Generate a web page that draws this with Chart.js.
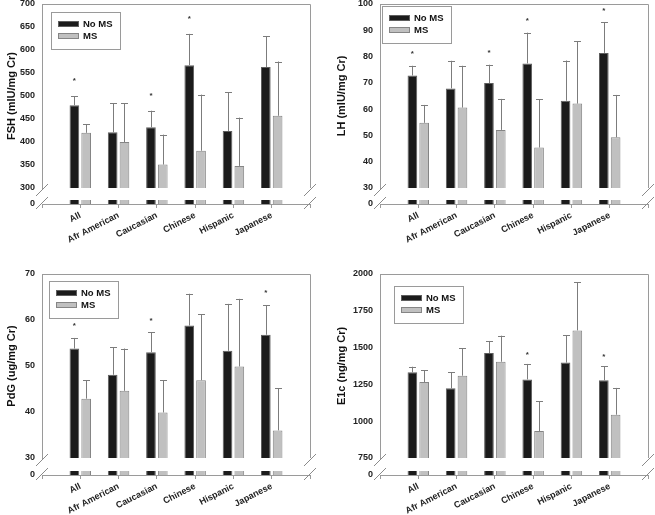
<!DOCTYPE html>
<html>
<head>
<meta charset="utf-8">
<script src="https://cdn.jsdelivr.net/npm/chart.js@4.4.0/dist/chart.umd.min.js"></script>
<style>
  body { margin: 0; background: #fff; }
  #wrap { position: relative; width: 655px; height: 515px; overflow: hidden; }
  canvas { position: absolute; }
</style>
</head>
<body>
<div id="wrap">
  <canvas id="fsh" width="327" height="255" style="left:0;top:0"></canvas>
  <canvas id="lh" width="325" height="255" style="left:330px;top:0"></canvas>
  <canvas id="pdg" width="327" height="260" style="left:0;top:255px"></canvas>
  <canvas id="e1c" width="325" height="260" style="left:330px;top:255px"></canvas>
</div>
<script>
const categories = ['All', 'Afr American', 'Caucasian', 'Chinese', 'Hispanic', 'Japanese'];
const seriesNames = ['No MS', 'MS'];

// FSH (mIU/mg Cr)
const fshNoMS = [480, 421, 432, 567, 424, 563];
const fshNoMSErr = [20, 63, 36, 68, 84, 67];
const fshMS = [420, 400, 351, 381, 348, 457];
const fshMSErr = [19, 84, 65, 122, 105, 118];
const fshStars = [1, 0, 1, 1, 0, 0];

// LH (mIU/mg Cr)
const lhNoMS = [72.8, 67.9, 69.9, 77.4, 63.2, 81.4];
const lhNoMSErr = [3.7, 10.5, 7.0, 11.7, 15.3, 11.6];
const lhMS = [54.8, 60.6, 52.1, 45.4, 62.1, 49.3];
const lhMSErr = [6.8, 15.9, 11.8, 18.3, 23.7, 16.1];
const lhStars = [1, 0, 1, 1, 0, 1];

// PdG (ug/mg Cr)
const pdgNoMS = [53.8, 48.1, 53.0, 58.8, 53.3, 56.8];
const pdgNoMSErr = [2.3, 6.0, 4.3, 6.9, 10.2, 6.4];
const pdgMS = [42.9, 44.6, 39.9, 46.9, 49.9, 36.0];
const pdgMSErr = [4.0, 9.2, 7.0, 14.3, 14.7, 9.2];
const pdgStars = [1, 0, 1, 0, 0, 1];

// E1c (ng/mg Cr)
const e1cNoMS = [1332, 1223, 1463, 1284, 1398, 1278];
const e1cNoMSErr = [38, 111, 82, 105, 185, 95];
const e1cMS = [1266, 1309, 1404, 933, 1617, 1044];
const e1cMSErr = [80, 186, 177, 204, 326, 182];
const e1cStars = [0, 0, 0, 1, 0, 1];

const FONT = 'Arial, "Liberation Sans", sans-serif';
const noMSFill = '#1b1b1b', noMSEdge = '#5e5e5e';
const msFill = '#c0c0c0', msEdge = '#858585';
const lineGray = '#9a9a9a';

// pad the category axis with an empty slot on both ends
const pad = arr => [null, ...arr, null];

// clip, error bars, asterisks, frame, axis breaks and legend
const decor = {
  id: 'decor',
  beforeDatasetDraw(chart, args) {
    const ds = chart.data.datasets[args.index];
    const sc = chart.scales[ds.yAxisID];
    const a = chart.chartArea;
    const ctx = chart.ctx;
    ctx.save();
    ctx.beginPath();
    if (ds.stub) ctx.rect(a.left, sc.bottom - 4, a.right - a.left, 4);
    else ctx.rect(a.left, sc.top, a.right - a.left, sc.bottom - sc.top);
    ctx.clip();
  },
  afterDatasetDraw(chart) {
    chart.ctx.restore();
  },
  afterDatasetsDraw(chart, args, opts) {
    const ctx = chart.ctx;
    const y = chart.scales.y;
    chart.data.datasets.forEach((ds, di) => {
      if (ds.stub) return;
      const meta = chart.getDatasetMeta(di);
      meta.data.forEach((el, i) => {
        const v = ds.data[i];
        if (v == null) return;
        const top = y.getPixelForValue(v + ds.errors[i]);
        ctx.save();
        ctx.strokeStyle = '#7c7c7c';
        ctx.lineWidth = 1;
        ctx.beginPath();
        const x = Math.round(el.x) + 0.5;
        ctx.moveTo(x, el.y);
        ctx.lineTo(x, top);
        ctx.moveTo(x - 3.5, Math.round(top) + 0.5);
        ctx.lineTo(x + 3.5, Math.round(top) + 0.5);
        ctx.stroke();
        if (ds.stars && ds.stars[i]) {
          ctx.fillStyle = '#333';
          ctx.font = 'bold 8px ' + FONT;
          ctx.textAlign = 'center';
          ctx.textBaseline = 'middle';
          ctx.fillText('*', el.x, top - opts.starGap);
        }
        ctx.restore();
      });
    });
  },
  afterDraw(chart, args, opts) {
    const ctx = chart.ctx;
    const a = chart.chartArea;
    const brk = chart.scales.y.bottom;
    const bot = chart.scales.y0.bottom;
    ctx.save();
    ctx.strokeStyle = lineGray;
    ctx.lineWidth = 1;
    ctx.beginPath();
    ctx.moveTo(a.left, a.top + 0.5);
    ctx.lineTo(a.right + 0.5, a.top + 0.5);
    ctx.lineTo(a.right + 0.5, brk);
    ctx.stroke();
    // axis break marks
    ctx.strokeStyle = '#8a8a8a';
    ctx.beginPath();
    [a.left, a.right].forEach(x => {
      ctx.moveTo(x - 6, brk + 8);
      ctx.lineTo(x + 6, brk - 4);
      ctx.moveTo(x - 6, bot + 5);
      ctx.lineTo(x + 6, bot - 7);
    });
    ctx.stroke();
    // legend
    const lx = a.left + opts.legendX, ly = a.top + opts.legendY;
    ctx.fillStyle = '#fff';
    ctx.fillRect(lx, ly, 69, 37);
    ctx.strokeStyle = lineGray;
    ctx.strokeRect(lx + 0.5, ly + 0.5, 69, 37);
    chart.data.datasets.filter(d => !d.stub).forEach((d, k) => {
      const cy = ly + 12 + k * 12;
      ctx.fillStyle = d.backgroundColor;
      ctx.fillRect(lx + 7, cy - 3, 21, 6);
      ctx.strokeStyle = d.borderColor;
      ctx.strokeRect(lx + 7.5, cy - 2.5, 20, 5);
      ctx.fillStyle = '#111';
      ctx.font = 'bold 9.5px ' + FONT;
      ctx.textAlign = 'left';
      ctx.textBaseline = 'middle';
      ctx.fillText(d.label, lx + 32, cy + 0.5);
    });
    ctx.restore();
  }
};

function zeroPad(s) {
  s.paddingTop = 0; s.paddingBottom = 0; s.paddingLeft = 0; s.paddingRight = 0;
}

function makePanel(id, p) {
  const canvas = document.getElementById(id);
  const W = canvas.width, H = canvas.height;
  const L = p.layout;
  const tickFont = { family: FONT, size: 9, weight: 'bold' };
  const plain = v => String(v);
  const bar = (label, data, fill, edge, extra) => Object.assign({
    label, data: pad(data), backgroundColor: fill, borderColor: edge, borderWidth: 1
  }, extra);

  return new Chart(canvas, {
    type: 'bar',
    data: {
      labels: ['', ...categories, ''],
      datasets: [
        bar(seriesNames[0], p.noMS, noMSFill, noMSEdge, { yAxisID: 'y', stack: 'a', errors: pad(p.noMSErr), stars: pad(p.stars) }),
        bar(seriesNames[1], p.ms, msFill, msEdge, { yAxisID: 'y', stack: 'b', errors: pad(p.msErr) }),
        bar(seriesNames[0], p.noMS, noMSFill, noMSEdge, { yAxisID: 'y0', stack: 'a', stub: true }),
        bar(seriesNames[1], p.ms, msFill, msEdge, { yAxisID: 'y0', stack: 'b', stub: true })
      ]
    },
    options: {
      responsive: false,
      animation: false,
      devicePixelRatio: 1,
      layout: { padding: { top: L.top, right: W - L.right, left: 0, bottom: 0 } },
      datasets: { bar: { categoryPercentage: 0.616, barPercentage: 0.82 } },
      plugins: {
        legend: { display: false },
        tooltip: { enabled: false },
        decor: { legendX: L.legendX, legendY: L.legendY, starGap: L.starGap }
      },
      scales: {
        x: {
          type: 'category',
          offset: false,
          grid: { display: true, offset: false, drawOnChartArea: false, drawTicks: true, tickLength: 4, color: lineGray },
          border: { display: true, color: lineGray },
          ticks: { autoSkip: false, minRotation: 27, maxRotation: 27, padding: 2, color: '#222', font: tickFont },
          afterFit: s => { s.height = H - L.bottom; zeroPad(s); }
        },
        y: {
          type: 'linear',
          position: 'left',
          stack: 'v',
          stackWeight: L.breakY - L.top,
          weight: 2,
          stacked: false,
          min: p.breakValue,
          max: p.maxValue,
          grid: { display: false, drawTicks: false },
          border: { display: true, color: lineGray },
          ticks: { stepSize: p.step, padding: 7, color: '#222', font: tickFont, callback: plain },
          title: { display: true, text: p.title, color: '#111', padding: { top: 5, bottom: 2 },
                   font: { family: FONT, size: 11, weight: 'bold' } },
          afterFit: s => { s.width = L.left; zeroPad(s); }
        },
        y0: {
          type: 'linear',
          position: 'left',
          stack: 'v',
          stackWeight: L.bottom - L.breakY,
          weight: 1,
          stacked: false,
          min: 0,
          max: p.breakValue,
          grid: { display: false, drawTicks: false },
          border: { display: false },
          ticks: { padding: 7, color: '#222', font: tickFont, callback: plain },
          afterBuildTicks: s => { s.ticks = [{ value: 0 }]; },
          afterFit: s => { s.width = L.left; zeroPad(s); }
        }
      }
    },
    plugins: [decor]
  });
}

makePanel('fsh', {
  title: 'FSH (mIU/mg Cr)', breakValue: 300, maxValue: 700, step: 50,
  noMS: fshNoMS, noMSErr: fshNoMSErr, ms: fshMS, msErr: fshMSErr, stars: fshStars,
  layout: { left: 42, right: 310, top: 4, breakY: 188, bottom: 204, legendX: 9, legendY: 8, starGap: 15 }
});
makePanel('lh', {
  title: 'LH (mIU/mg Cr)', breakValue: 30, maxValue: 100, step: 10,
  noMS: lhNoMS, noMSErr: lhNoMSErr, ms: lhMS, msErr: lhMSErr, stars: lhStars,
  layout: { left: 50, right: 318, top: 4, breakY: 188, bottom: 204, legendX: 2, legendY: 2, starGap: 12 }
});
makePanel('pdg', {
  title: 'PdG (ug/mg Cr)', breakValue: 30, maxValue: 70, step: 10,
  noMS: pdgNoMS, noMSErr: pdgNoMSErr, ms: pdgMS, msErr: pdgMSErr, stars: pdgStars,
  layout: { left: 42, right: 310, top: 19, breakY: 203, bottom: 220, legendX: 7, legendY: 7, starGap: 12 }
});
makePanel('e1c', {
  title: 'E1c (ng/mg Cr)', breakValue: 750, maxValue: 2000, step: 250,
  noMS: e1cNoMS, noMSErr: e1cNoMSErr, ms: e1cMS, msErr: e1cMSErr, stars: e1cStars,
  layout: { left: 50, right: 318, top: 19, breakY: 203, bottom: 220, legendX: 14, legendY: 12, starGap: 9 }
});
</script>
</body>
</html>
